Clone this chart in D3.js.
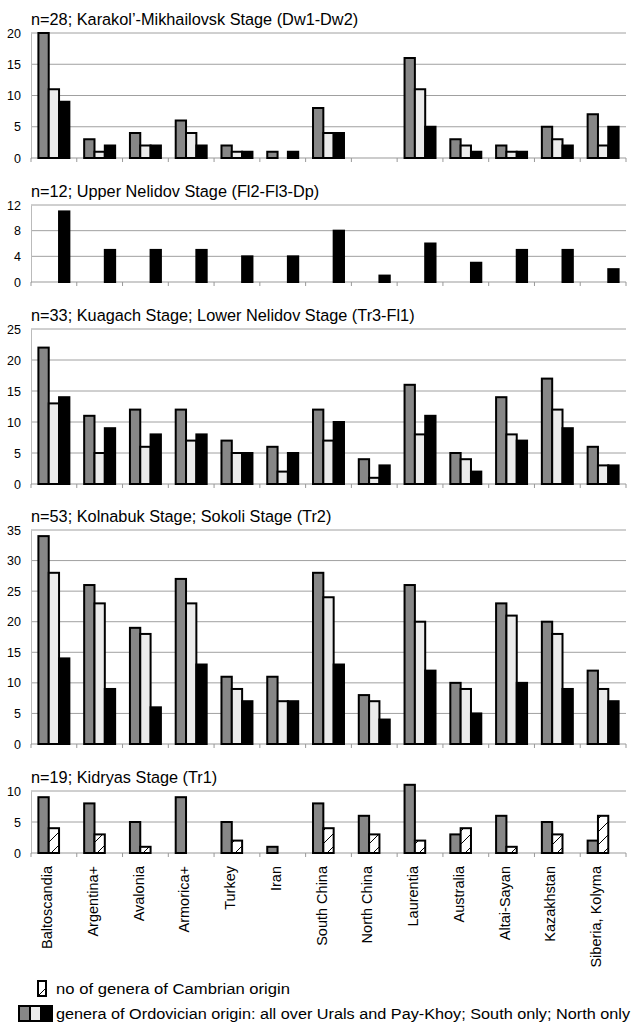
<!DOCTYPE html>
<html>
<head>
<meta charset="utf-8">
<script src="https://cdn.jsdelivr.net/npm/d3@7/dist/d3.min.js"></script>
<style>
  body { margin: 0; background: #fff; }
  text { font-family: "Liberation Sans", Arial, sans-serif; fill: #000; }
</style>
</head>
<body>
<svg id="chart" width="632" height="1026"></svg>
<script>
const categories = ["Baltoscandia", "Argentina+", "Avalonia", "Armorica+", "Turkey", "Iran",
  "South China", "North China", "Laurentia", "Australia", "Altai-Sayan", "Kazakhstan", "Siberia, Kolyma"]

const seriesKeys = ["total", "south", "north"]

// Karakol'-Mikhailovsk Stage
const p1Total = [20, 3, 4, 6, 2, 1, 8, 0, 16, 3, 2, 5, 7]
const p1South = [11, 1, 2, 4, 1, 0, 4, 0, 11, 2, 1, 3, 2]
const p1North = [9, 2, 2, 2, 1, 1, 4, 0, 5, 1, 1, 2, 5]

// Upper Nelidov Stage (north only)
const p2North = [11, 5, 5, 5, 4, 4, 8, 1, 6, 3, 5, 5, 2]

// Kuagach / Lower Nelidov
const p3Total = [22, 11, 12, 12, 7, 6, 12, 4, 16, 5, 14, 17, 6]
const p3South = [13, 5, 6, 7, 5, 2, 7, 1, 8, 4, 8, 12, 3]
const p3North = [14, 9, 8, 8, 5, 5, 10, 3, 11, 2, 7, 9, 3]

// Kolnabuk / Sokoli
const p4Total = [34, 26, 19, 27, 11, 11, 28, 8, 26, 10, 23, 20, 12]
const p4South = [28, 23, 18, 23, 9, 7, 24, 7, 20, 9, 21, 18, 9]
const p4North = [14, 9, 6, 13, 7, 7, 13, 4, 12, 5, 10, 9, 7]

// Kidryas Stage: total + cambrian origin
const p5Total = [9, 8, 5, 9, 5, 1, 8, 6, 11, 3, 6, 5, 2]
const p5Cambrian = [4, 3, 1, 0, 2, 0, 4, 3, 2, 4, 1, 3, 6]

const titles = [
  "n=28; Karakol’-Mikhailovsk Stage (Dw1-Dw2)",
  "n=12; Upper Nelidov Stage (Fl2-Fl3-Dp)",
  "n=33; Kuagach Stage; Lower Nelidov Stage (Tr3-Fl1)",
  "n=53; Kolnabuk Stage; Sokoli Stage (Tr2)",
  "n=19; Kidryas Stage (Tr1)"
]
const yMaxes = [20, 12, 25, 35, 10]
const tickSteps = [5, 4, 5, 5, 5]

const legendLabels = [
  "no of genera of Cambrian origin",
  "genera of Ordovician origin: all over Urals and Pay-Khoy; South only; North only"
]

// each panel: list of series [slot, values, style]
const panelSeries = [
  [[0, p1Total, "total"], [1, p1South, "south"], [2, p1North, "north"]],
  [[2, p2North, "north"]],
  [[0, p3Total, "total"], [1, p3South, "south"], [2, p3North, "north"]],
  [[0, p4Total, "total"], [1, p4South, "south"], [2, p4North, "north"]],
  [[0, p5Total, "total"], [1, p5Cambrian, "cambrian"]]
]

// vertical placement of each plot area
const panelTops = [33, 205, 329, 530, 791]
const panelBottoms = [158, 282, 484, 744, 853]

const fills = { total: "#878787", south: "#ebebeb", north: "#000", cambrian: "url(#hatch)" }

const svg = d3.select("#chart")
const left = 31, right = 626

// hatch pattern for cambrian bars
const defs = svg.append("defs")
const pat = defs.append("pattern")
  .attr("id", "hatch")
  .attr("patternUnits", "userSpaceOnUse")
  .attr("width", 46).attr("height", 13)
pat.append("rect").attr("width", 46).attr("height", 13).attr("fill", "#fff")
pat.append("line")
  .attr("x1", 0).attr("y1", 13).attr("x2", 13).attr("y2", 0)
  .attr("stroke", "#000").attr("stroke-width", 1)
pat.append("line")
  .attr("x1", 46 - 13).attr("y1", 13).attr("x2", 46).attr("y2", 0)
  .attr("stroke", "#000").attr("stroke-width", 1)

const x = d3.scaleBand().domain(categories).range([left, right])
const slot = d3.scaleBand().domain([0, 1, 2])
  .range([7.4, x.bandwidth() - 7.4])

panelSeries.forEach((series, i) => {
  const y = d3.scaleLinear().domain([0, yMaxes[i]]).range([panelBottoms[i], panelTops[i]])
  const g = svg.append("g")
  const ticks = d3.range(0, yMaxes[i] + 0.001, tickSteps[i])

  // gridlines
  g.selectAll(".grid")
    .data(ticks.filter(t => t > 0))
    .join("line")
    .attr("x1", left).attr("x2", right)
    .attr("y1", d => y(d)).attr("y2", d => y(d))
    .attr("stroke", "#a0a0a0").attr("stroke-width", 1)

  // value axis
  const yAxis = d3.axisLeft(y).tickValues(ticks).tickSize(0).tickPadding(10)
  g.append("g")
    .attr("transform", `translate(${left},0)`)
    .call(yAxis)
    .call(a => a.select(".domain").attr("stroke", "#bbb"))
    .call(a => a.selectAll("text").attr("font-size", 12.5)
      .attr("font-family", "'Liberation Sans', Arial, sans-serif"))

  // category axis
  g.append("line")
    .attr("x1", left).attr("x2", right)
    .attr("y1", y(0)).attr("y2", y(0))
    .attr("stroke", "#999")
  g.selectAll(".ctick")
    .data(d3.range(categories.length + 1))
    .join("line")
    .attr("x1", d => left + d * x.step()).attr("x2", d => left + d * x.step())
    .attr("y1", y(0)).attr("y2", y(0) + 4)
    .attr("stroke", "#999")

  // bars
  series.forEach(([s, values, style]) => {
    g.selectAll(".bar-" + style)
      .data(values.map((v, k) => ({ v, c: categories[k] })).filter(d => d.v > 0))
      .join("rect")
      .attr("x", d => x(d.c) + slot(s))
      .attr("y", d => y(d.v))
      .attr("width", slot.bandwidth())
      .attr("height", d => y(0) - y(d.v))
      .attr("fill", fills[style])
      .attr("stroke", "#000")
      .attr("stroke-width", 2)
  })

  // title
  svg.append("text")
    .attr("x", left)
    .attr("y", panelTops[i] - 8)
    .attr("font-size", 16.3)
    .text(titles[i])
})

// category labels under last panel
svg.selectAll(".cat")
  .data(categories)
  .join("text")
  .attr("transform", d => `translate(${x(d) + 16},866) rotate(-90)`)
  .attr("text-anchor", "end")
  .attr("dominant-baseline", "central")
  .attr("font-size", 14.5)
  .text(d => d)

// legend
const leg = svg.append("g")
leg.append("rect")
  .attr("x", 38).attr("y", 981).attr("width", 8).attr("height", 15)
  .attr("fill", "url(#hatch)").attr("stroke", "#000").attr("stroke-width", 2)
leg.append("text").attr("x", 56).attr("y", 994).attr("font-size", 15.5)
  .attr("textLength", 234).attr("lengthAdjust", "spacingAndGlyphs")
  .text(legendLabels[0])

seriesKeys.forEach((k, j) => {
  leg.append("rect")
    .attr("x", 19 + j * 11).attr("y", 1006).attr("width", 11).attr("height", 15)
    .attr("fill", fills[k]).attr("stroke", "#000").attr("stroke-width", 2)
})
leg.append("text").attr("x", 56).attr("y", 1019).attr("font-size", 15.5)
  .attr("textLength", 574).attr("lengthAdjust", "spacingAndGlyphs")
  .text(legendLabels[1])
</script>
</body>
</html>
